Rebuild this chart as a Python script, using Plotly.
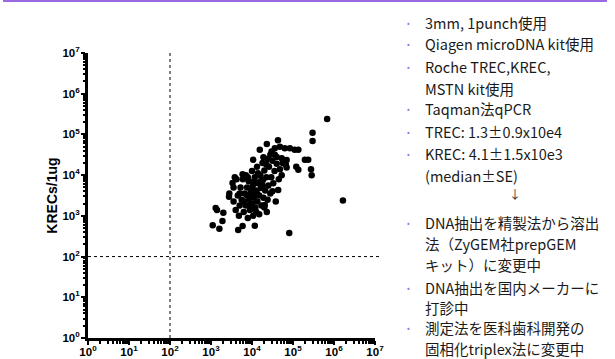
import plotly.graph_objects as go

# TREC (x) and KREC (y) copies per 1ug
trec = [6.8e5, 3.0e5, 3.0e5, 1.65e6, 8.1e4, 4.3e4, 2.3e4, 1.55e4, 1.07e4, 1.9e4,
        3.6e4, 4.8e4, 6.3e4, 8.4e4, 1.1e5, 1.35e5, 1.95e5, 2.35e5, 1.2e5, 1.35e5,
        2.75e5, 2.85e5, 6.7e4, 7.0e4, 5.3e4, 4.35e4, 4.0e4, 5.3e4, 7.0e4, 3.0e4,
        3.6e4, 3.35e3, 2.75e3, 1.3e3, 1.4e3, 2.0e3, 1.1e3, 1.6e3, 1.9e3, 4.6e3,
        5.9e3, 1.17e4, 5.9e3, 2.3e4, 2.05e4, 2.8e3, 3.55e3, 3.55e3, 4.0e3, 4.2e3,
        4.5e3, 4.8e3, 5.0e3, 5.25e3, 5.6e3, 6.0e3, 6.3e3, 6.6e3, 7.1e3, 7.1e3,
        7.6e3, 7.9e3, 8.3e3, 8.3e3, 8.9e3, 9.3e3, 1.0e4, 1.0e4, 1.05e4, 1.07e4,
        1.12e4, 1.17e4, 1.2e4, 1.26e4, 1.32e4, 1.35e4, 1.4e4, 1.5e4, 1.5e4, 1.6e4,
        1.65e4, 1.7e4, 1.8e4, 1.85e4, 1.9e4, 2.0e4, 2.1e4, 2.25e4, 2.35e4, 2.4e4,
        2.5e4, 2.6e4, 2.8e4, 2.95e4, 3.15e4, 3.3e4, 3.55e4, 3.8e4, 4.0e4, 4.5e4,
        4.8e4, 5.6e4, 7.6e3, 9.5e3, 1.12e4, 1.32e4, 8.9e3, 1.6e4, 1.26e4, 6.3e3,
        2.25e4, 2.8e4, 1.8e4, 1.05e4, 7.9e3, 1.4e4, 5.0e3, 3.8e3, 2.0e4, 3.15e4]
krec = [2.4e5, 1.1e5, 6.9e4, 2.4e3, 3.8e2, 7.2e4, 5.8e4, 4.2e4, 2.4e4, 2.75e4,
        4.6e4, 5.0e4, 4.6e4, 4.6e4, 4.2e4, 4.2e4, 2.4e4, 2.4e4, 1.6e4, 1.35e4,
        1.4e4, 1.0e4, 1.8e4, 1.55e4, 1.0e4, 4.3e3, 2.8e4, 2.6e4, 2.35e4, 3.8e4,
        3.15e4, 6.4e3, 2.95e3, 1.55e3, 1.4e3, 1.2e3, 5.9e2, 4.8e2, 7.5e2, 4.5e2,
        5.6e2, 5.7e2, 1.05e4, 1.25e3, 1.85e3, 3.55e3, 2.25e3, 5.0e3, 1.4e3, 7.9e3,
        3.15e3, 1.0e3, 1.8e3, 5.0e3, 2.5e3, 7.9e3, 1.25e3, 3.55e3, 1.8e3, 1.0e4,
        5.0e3, 8.9e2, 2.5e3, 7.1e3, 1.4e3, 3.8e3, 2.0e3, 1.26e4, 5.6e3, 1.0e3,
        2.8e3, 8.9e3, 1.6e3, 4.2e3, 1.6e4, 2.25e3, 6.3e3, 1.1e3, 3.15e3, 1.0e4,
        4.8e3, 1.8e3, 2.0e4, 7.6e3, 2.8e3, 1.3e4, 4.2e3, 8.9e3, 2.5e4, 2.5e3,
        5.6e3, 1.6e4, 3.55e3, 8.9e3, 2.25e4, 6.3e3, 1.26e4, 2.25e3, 1.9e4, 7.9e3,
        1.4e4, 2.0e4, 3.15e3, 4.5e3, 7.1e3, 3.55e3, 1.8e3, 7.1e3, 1.26e3, 2.25e3,
        1.8e4, 3.15e4, 5.6e3, 3.15e3, 8.9e3, 1.12e4, 3.55e3, 8.9e3, 1.6e3, 4.0e3]

decade_vals = [1, 10, 100, 1e3, 1e4, 1e5, 1e6, 1e7]
decade_text = ["10<sup>%d</sup>" % i for i in range(8)]
cutoff = 100
y_title = "KRECs/1ug"

notes = [
    ("bullet", "3mm, 1punch使用"),
    ("bullet", "Qiagen microDNA kit使用"),
    ("bullet", "Roche TREC,KREC,"),
    ("cont", "MSTN kit使用"),
    ("bullet", "Taqman法qPCR"),
    ("bullet", "TREC: 1.3±0.9x10e4"),
    ("bullet", "KREC: 4.1±1.5x10e3"),
    ("cont", "(median±SE)"),
    ("arrow", "↓"),
    ("bullet", "DNA抽出を精製法から溶出"),
    ("cont", "法（ZyGEM社prepGEM"),
    ("cont", "キット）に変更中"),
    ("bullet", "DNA抽出を国内メーカーに"),
    ("cont", "打診中"),
    ("bullet", "測定法を医科歯科開発の"),
    ("cont", "固相化triplex法に変更中"),
]
note_y = [22, 44, 66, 88, 109, 131, 153, 175, 193, 222, 243, 264, 287, 307, 327, 348]

W, H = 615, 359
L, R, T, B = 88, 240, 53, 21
pw, ph = W - L - R, H - T - B


def px(x):
    return (x - L) / pw


def py(y):
    return (H - B - y) / ph


fig = go.Figure()
fig.add_trace(go.Scatter(
    x=trec, y=krec, mode="markers",
    marker=dict(color="black", size=6.5, line=dict(width=0)),
    showlegend=False, cliponaxis=False, hoverinfo="skip"))

tick_font = dict(family="Liberation Sans", size=11.5, color="black", weight="bold")
axis_common = dict(
    type="log", range=[0, 7], tickvals=decade_vals, ticktext=decade_text,
    ticks="outside", ticklen=4, tickwidth=2, tickcolor="black",
    showline=True, linewidth=3, linecolor="black", mirror=False,
    showgrid=False, zeroline=False, tickfont=tick_font,
    minor=dict(dtick="D1", ticks="outside", ticklen=2.5, tickwidth=1.5,
               tickcolor="black", showgrid=False),
)
fig.update_xaxes(**axis_common, ticklabelstandoff=-3)
fig.update_yaxes(**axis_common, ticklabelstandoff=-1)
fig.update_yaxes(title=dict(text=y_title, standoff=2,
                            font=dict(family="Liberation Sans", size=14,
                                      color="black", weight="bold")))

# cutoff lines
fig.add_shape(type="line", xref="x", yref="paper", x0=cutoff, x1=cutoff,
              y0=0, y1=1, line=dict(color="black", width=1, dash="dot"))
fig.add_shape(type="line", xref="paper", yref="y", x0=0, x1=px(382),
              y0=cutoff, y1=cutoff, line=dict(color="black", width=1, dash="dot"))

# top purple rule
fig.add_shape(type="rect", xref="paper", yref="paper", x0=px(3), x1=px(607),
              y0=py(2), y1=py(0), fillcolor="#9b6ae0", line=dict(width=0))

for (kind, txt), yy in zip(notes, note_y):
    if kind == "arrow":
        fig.add_annotation(x=px(515), y=py(yy), xref="paper", yref="paper",
                           text=txt, showarrow=False, xanchor="center",
                           yanchor="middle",
                           font=dict(family="Noto Sans CJK JP", size=12, color="#333333"))
        continue
    if kind == "bullet":
        fig.add_annotation(x=px(408), y=py(yy), xref="paper", yref="paper",
                           text="•", showarrow=False, xanchor="center",
                           yanchor="middle",
                           font=dict(family="Noto Sans CJK JP", size=8, color="#8c7ae6"))
    fig.add_annotation(x=px(423), y=py(yy), xref="paper", yref="paper",
                       text=txt, showarrow=False, xanchor="left", yanchor="middle",
                       font=dict(family="Noto Sans CJK JP", size=14.5, color="#1a1a1a"))

fig.update_layout(
    width=W, height=H,
    margin=dict(l=L, r=R, t=T, b=B, autoexpand=False),
    plot_bgcolor="white", paper_bgcolor="white",
)

fig.write_html(
    "out.html",
    config={"displayModeBar": False},
    post_script="document.body.style.margin='0';document.body.style.padding='0';"
                "document.body.style.overflow='hidden';",
)
